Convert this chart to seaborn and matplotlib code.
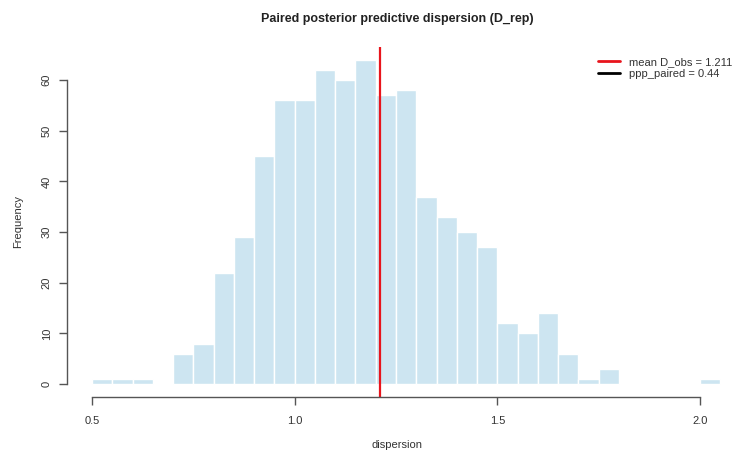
import numpy as np
import matplotlib
matplotlib.use("Agg")
import matplotlib.pyplot as plt
import seaborn as sns

# histogram bins (width 0.05) and counts
bin_edges = [0.50, 0.55, 0.60, 0.65, 0.70, 0.75, 0.80, 0.85, 0.90, 0.95, 1.00,
             1.05, 1.10, 1.15, 1.20, 1.25, 1.30, 1.35, 1.40, 1.45, 1.50,
             1.55, 1.60, 1.65, 1.70, 1.75, 1.80, 1.85, 1.90, 1.95, 2.00, 2.05]
counts = [1, 1, 1, 0, 6, 8, 22, 29, 45, 56, 56,
          62, 60, 64, 57, 58, 37, 33, 30, 27,
          12, 10, 14, 6, 1, 3, 0, 0, 0, 0, 1]
mean_d_obs = 1.211
ppp_paired = 0.44
x_ticks = [0.5, 1.0, 1.5, 2.0]
y_ticks = [0, 10, 20, 30, 40, 50, 60]

bin_mids = [(a + b) / 2 for a, b in zip(bin_edges[:-1], bin_edges[1:])]

sns.set_style("white")
plt.rcParams['font.family'] = ['Liberation Sans', 'DejaVu Sans']
text_col = "#333333"

W, H = 739, 451
fig = plt.figure(figsize=(W / 100, H / 100), dpi=100)
ax = fig.add_axes([67 / W, 1 - 397 / H, (739 - 67) / W, (397 - 47) / H])

sns.histplot(x=bin_mids, weights=counts, bins=bin_edges, ax=ax,
             color="#cde5f1", edgecolor="white", linewidth=1, alpha=1)

ax.axvline(mean_d_obs, color="#e8141c", lw=1.6)

ax.set_xlim(0.5 - 25 / 405.3, 0.5 + (739 - 92) / 405.3)
ax.set_ylim(-2.56, 66.56)

for s in ["top", "right"]:
    ax.spines[s].set_visible(False)
for s in ["left", "bottom"]:
    ax.spines[s].set_color("#555555")
    ax.spines[s].set_linewidth(1)
ax.spines["left"].set_bounds(0, 60)
ax.spines["bottom"].set_bounds(0.5, 2.0)

ax.set_xticks(x_ticks)
ax.set_xticklabels([f"{t:.1f}" for t in x_ticks])
ax.set_yticks(y_ticks)
ax.set_yticklabels([str(t) for t in y_ticks], rotation=90, va="center")
ax.tick_params(axis="both", direction="out", length=6, width=1, color="#555555",
               labelsize=8, labelcolor=text_col, bottom=True, left=True)
ax.tick_params(axis="x", pad=8)
ax.tick_params(axis="y", pad=5)

ax.set_xlabel("dispersion", fontsize=8, color=text_col, va="center")
ax.xaxis.set_label_coords((397 - 67) / 672, (397 - 445) / 350)
ax.set_ylabel("Frequency", fontsize=8, color=text_col, va="center")
ax.yaxis.set_label_coords((18 - 67) / 672, 0.5)
fig.text(397 / W, 1 - 19 / H, "Paired posterior predictive dispersion (D_rep)",
         ha="center", va="center", fontsize=9, fontweight="bold", color="#222222")

handles = [plt.Line2D([], [], color="#e8141c", lw=2),
           plt.Line2D([], [], color="black", lw=2)]
ax.legend(handles, [f"mean D_obs = {mean_d_obs}", f"ppp_paired = {ppp_paired}"],
          loc="upper right", bbox_to_anchor=(1.0, 0.99), frameon=False,
          fontsize=8, handlelength=2, handletextpad=0.8, labelspacing=0.15,
          labelcolor=text_col, borderaxespad=0.2)

fig.savefig("out.png", dpi=100)
